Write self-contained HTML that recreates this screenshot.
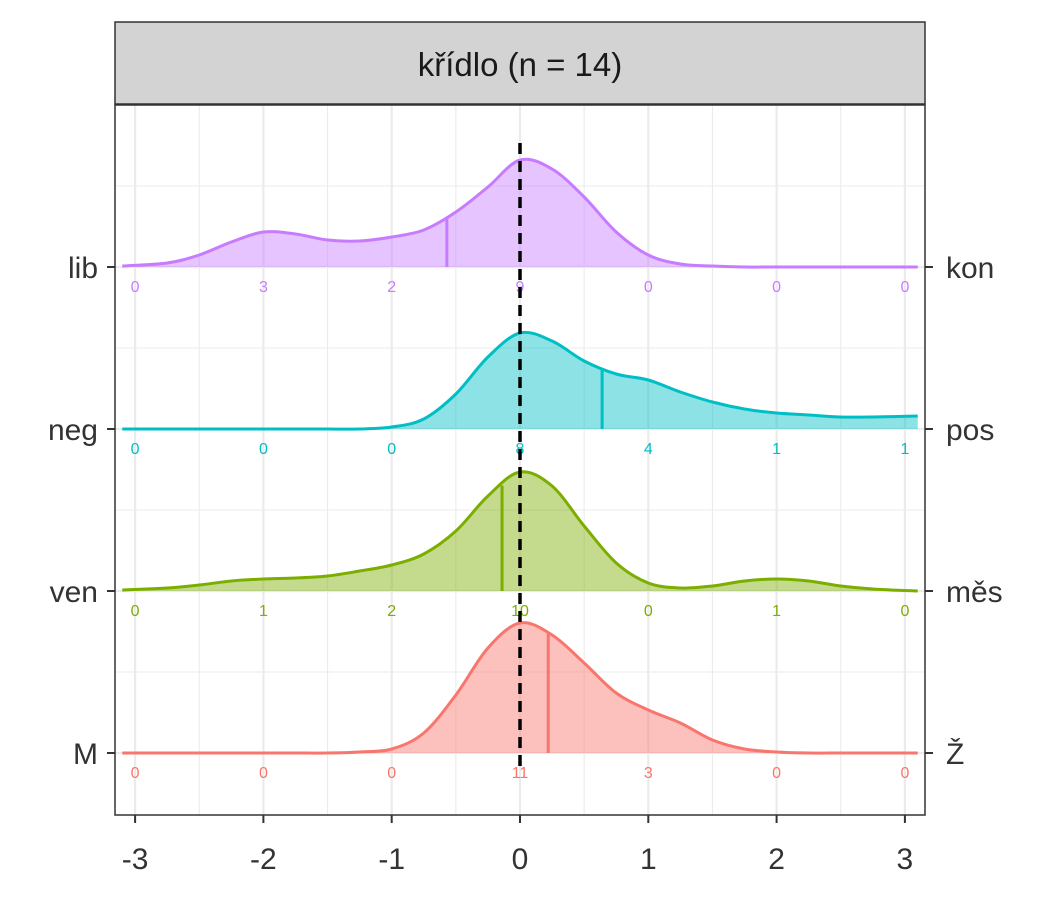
<!DOCTYPE html>
<html><head><meta charset="utf-8"><style>
body{margin:0;background:#fff;}
svg text{font-family:"Liberation Sans",Arial,sans-serif;}
</style></head><body>
<svg id="chart" width="1050" height="900" xmlns="http://www.w3.org/2000/svg">
<rect x="0" y="0" width="1050" height="900" fill="#fff"/>
<g id="grid"></g>
<g id="ridges"></g>
<rect x="115" y="105" width="810" height="710" fill="none" stroke="#333" stroke-width="1.5"/>
<rect x="115" y="22" width="810" height="82" fill="#d3d3d3" stroke="#333" stroke-width="1.5"/>
<text x="520" y="76" font-size="33" text-anchor="middle" fill="#1a1a1a">křídlo (n = 14)</text>
<g id="axes"></g>
</svg>
<script>
const xs=[-3.1,-2.75,-2.5,-2.25,-2,-1.75,-1.5,-1.25,-1,-0.75,-0.5,-0.25,0,0.25,0.5,0.75,1,1.25,1.5,1.75,2,2.25,2.5,2.75,3.1];
const leftLabels=["lib","neg","ven","M"];
const rightLabels=["kon","pos","měs","Ž"];
const colors=["#C77CFF","#00BFC4","#7CAE00","#F8766D"];
const densLib=[0.01,0.04,0.12,0.25,0.35,0.33,0.27,0.26,0.30,0.37,0.55,0.80,1.07,0.98,0.70,0.35,0.12,0.03,0.01,0,0,0,0,0,0];
const densNeg=[0,0,0,0,0,0,0,0,0.02,0.10,0.35,0.72,0.96,0.88,0.68,0.55,0.49,0.37,0.27,0.20,0.16,0.14,0.12,0.12,0.13];
const densVen=[0.01,0.03,0.06,0.10,0.12,0.13,0.15,0.20,0.26,0.37,0.60,0.95,1.19,1.05,0.65,0.28,0.08,0.03,0.05,0.10,0.12,0.10,0.05,0.02,0.0];
const densM=[0,0,0,0,0,0,0,0.01,0.04,0.20,0.58,1.05,1.30,1.18,0.90,0.60,0.43,0.30,0.13,0.04,0.01,0,0,0,0];
const means=[-0.57,0.64,-0.14,0.22];
const countXs=[-3,-2,-1,0,1,2,3];
const countsLib=[0,3,2,9,0,0,0];
const countsNeg=[0,0,0,8,4,1,1];
const countsVen=[0,1,2,10,0,1,0];
const countsM=[0,0,0,11,3,0,0];
const xTicks=[-3,-2,-1,0,1,2,3];

const NS="http://www.w3.org/2000/svg";
const sx=v=>520+v*128.3;
const baselines=[267,429,591,753];
const hs=d=>d*100;
function mk(tag,attrs,parent){const e=document.createElementNS(NS,tag);for(const k in attrs)e.setAttribute(k,attrs[k]);parent.appendChild(e);return e;}
const grid=document.getElementById('grid'),ridges=document.getElementById('ridges'),axes=document.getElementById('axes');
for(let v=-3;v<=3;v+=0.5){const major=Number.isInteger(v);
 const l=mk('line',{x1:sx(v),x2:sx(v),y1:105,y2:815,stroke:'#ebebeb','stroke-width':major?2.2:1.1},grid);
 
 }
baselines.forEach(b=>{
 const l=mk('line',{x1:115,x2:925,y1:b,y2:b,stroke:'#ebebeb','stroke-width':2.2},grid);
 
 
 const m=mk('line',{x1:115,x2:925,y1:b-81,y2:b-81,stroke:'#ebebeb','stroke-width':1.1},grid);
 
 
});
const dens=[densLib,densNeg,densVen,densM];
const counts=[countsLib,countsNeg,countsVen,countsM];
function interp(d,x){for(let i=0;i<xs.length-1;i++){if(x>=xs[i]&&x<=xs[i+1]){const t=(x-xs[i])/(xs[i+1]-xs[i]);return d[i]+(d[i+1]-d[i])*t;}}return 0;}
function smoothPath(pts){let s=`M${pts[0][0]},${pts[0][1]}`;for(let i=0;i<pts.length-1;i++){const p0=pts[i-1]||pts[i],p1=pts[i],p2=pts[i+1],p3=pts[i+2]||p2;
 s+=` C${p1[0]+(p2[0]-p0[0])/6},${p1[1]+(p2[1]-p0[1])/6} ${p2[0]-(p3[0]-p1[0])/6},${p2[1]-(p3[1]-p1[1])/6} ${p2[0]},${p2[1]}`;}return s;}
for(let k=0;k<4;k++){
 const b=baselines[k],c=colors[k],d=dens[k];
 const pts=xs.map((x,i)=>[sx(x),b-hs(d[i])]);
 const line=smoothPath(pts);
 const area=mk('path',{d:line+` L${sx(xs[xs.length-1])},${b} L${sx(xs[0])},${b} Z`,fill:c,'fill-opacity':0.45,stroke:'none'},ridges);
 
 
 const ml=mk('line',{x1:sx(means[k]),x2:sx(means[k]),y1:b,y2:b-hs(interp(d,means[k])),stroke:c,'stroke-width':3},ridges);
 
 
 const ln=mk('path',{d:line,fill:'none',stroke:c,'stroke-width':3},ridges);
 
 
 countXs.forEach((x,i)=>{const t=mk('text',{x:sx(x),y:b+25,'font-size':16,'text-anchor':'middle',fill:c},ridges);t.textContent=counts[k][i];
  
  });
 const lt=mk('line',{x1:107,x2:115,y1:b,y2:b,stroke:'#333','stroke-width':2},axes);
 
 
 const rt=mk('line',{x1:925,x2:933,y1:b,y2:b,stroke:'#333','stroke-width':2},axes);
 
 
 const l1=mk('text',{x:98,y:b+11,'font-size':30,'text-anchor':'end',fill:'#333'},axes);l1.textContent=leftLabels[k];
 
 
 const l2=mk('text',{x:946,y:b+11,'font-size':30,'text-anchor':'start',fill:'#333'},axes);l2.textContent=rightLabels[k];
 
 
}
const dl=mk('line',{x1:520,x2:520,y1:143,y2:772,stroke:'#000','stroke-width':3.5,'stroke-dasharray':'11,7'},ridges);


xTicks.forEach(v=>{
 const t=mk('line',{x1:sx(v),x2:sx(v),y1:815,y2:823,stroke:'#333','stroke-width':2},axes);
 
 
 const l=mk('text',{x:sx(v),y:869,'font-size':30,'text-anchor':'middle',fill:'#333'},axes);l.textContent=v;
 
 
});
</script>
</body></html>
